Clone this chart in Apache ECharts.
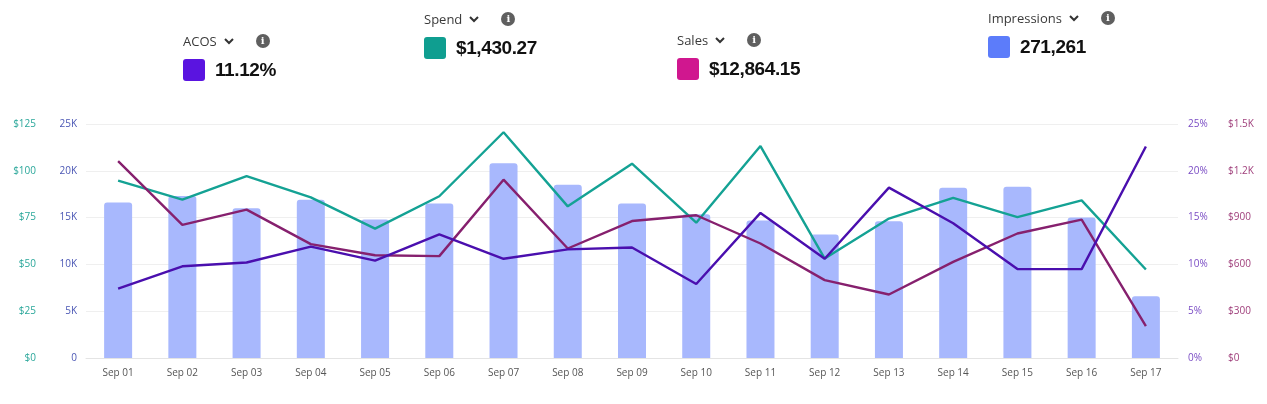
<!DOCTYPE html>
<html>
<head>
  <meta charset="utf-8">
  <title>Campaign performance</title>
  <script src="https://cdn.jsdelivr.net/npm/echarts@6/dist/echarts.min.js"></script>
  <style>
    body { margin: 0; background: #fff; font-family: "Open Sans", Roboto, sans-serif; }
    #wrap { position: relative; width: 1267px; height: 404px; }
    #main { position: absolute; left: 0; top: 0; width: 1267px; height: 404px; }
    .kpi { position: absolute; }
    .kpi .lbl { font-size: 13px; color: #3a3a3a; display: flex; align-items: center; height: 18px; }
    .kpi .lbl svg { margin-left: 7px; }
    .kpi .info { display: inline-block; width: 14px; height: 14px; border-radius: 50%; background: #5f5f5f;
                 color: #fff; font-size: 10px; font-weight: bold; line-height: 14px; text-align: center; margin-left: 22px; font-family: "DejaVu Serif", serif; }
    .kpi .val { display: flex; align-items: center; margin-top: 9px; }
    .kpi .box { width: 22px; height: 22px; border-radius: 3px; margin-right: 10px; }
    .kpi .num { font-size: 19px; font-weight: bold; color: #111; letter-spacing: -0.4px; font-family: "Liberation Sans", Arial, sans-serif; }
  </style>
</head>
<body>
<div id="wrap">
  <div id="main"></div>
</div>
<script type="text/javascript">
  // 数据
  var days = ['Sep 01','Sep 02','Sep 03','Sep 04','Sep 05','Sep 06','Sep 07','Sep 08','Sep 09',
              'Sep 10','Sep 11','Sep 12','Sep 13','Sep 14','Sep 15','Sep 16','Sep 17'];
  var impressions = [16600,17300,16000,16900,14800,16500,20800,18500,16500,15350,14700,13200,14600,18200,18300,15000,6600];
  var spend = [94.7,84.6,97.2,85.8,69.1,86.4,120.6,81.0,103.8,72.3,113.2,53.1,74.5,85.5,75.3,84.2,47.3];
  var sales = [1262,853,951,730,659,653,1143,702,878,915,734,499,407,616,798,887,205];
  var acos = [7.4,9.8,10.2,11.9,10.4,13.2,10.6,11.6,11.8,7.9,15.5,10.6,18.2,14.4,9.5,9.5,22.6];

  var kpis = [
    { name: 'ACOS', value: '11.12%', color: '#5a14e0', left: 183, top: 32 },
    { name: 'Spend', value: '$1,430.27', color: '#0f9e90', left: 424, top: 10 },
    { name: 'Sales', value: '$12,864.15', color: '#d0178f', left: 677, top: 31 },
    { name: 'Impressions', value: '271,261', color: '#5c7cfa', left: 988, top: 9 }
  ];

  var wrap = document.getElementById('wrap');
  kpis.forEach(function (k) {
    var d = document.createElement('div');
    d.className = 'kpi';
    d.style.left = k.left + 'px';
    d.style.top = k.top + 'px';
    d.innerHTML = '<div class="lbl">' + k.name +
      '<svg width="10" height="7" viewBox="0 0 10 7"><path d="M1 1 L5 5 L9 1" stroke="#333" stroke-width="2" fill="none"/></svg>' +
      '<span class="info">i</span></div>' +
      '<div class="val"><span class="box" style="background:' + k.color + '"></span><span class="num">' + k.value + '</span></div>';
    wrap.appendChild(d);
  });

  var myChart = echarts.init(document.getElementById('main'));
  var axisFont = { fontSize: 10, fontFamily: 'Open Sans, sans-serif' };

  var option = {
    animation: false,
    grid: { left: 86, right: 89, top: 124, bottom: 46 },
    xAxis: {
      type: 'category',
      data: days,
      axisTick: { show: false },
      axisLine: { lineStyle: { color: '#e4e4e4' } },
      axisLabel: Object.assign({ color: '#555', margin: 10 }, axisFont)
    },
    yAxis: [
      {
        type: 'value', position: 'left', min: 0, max: 125, interval: 25, offset: 42,
        axisLabel: Object.assign({ color: '#2aa79a', formatter: '${value}', margin: 8 }, axisFont),
        splitLine: { show: false }, axisLine: { show: false }
      },
      {
        type: 'value', position: 'left', min: 0, max: 25000, interval: 5000,
        axisLabel: Object.assign({ color: '#4a56b4', margin: 9,
          formatter: function (v) { return v === 0 ? '0' : (v / 1000) + 'K'; } }, axisFont),
        splitLine: { lineStyle: { color: '#efefef' } }, axisLine: { show: false }
      },
      {
        type: 'value', position: 'right', min: 0, max: 25, interval: 5,
        axisLabel: Object.assign({ color: '#7a4cc4', formatter: '{value}%', margin: 10 }, axisFont),
        splitLine: { show: false }, axisLine: { show: false }
      },
      {
        type: 'value', position: 'right', min: 0, max: 1500, interval: 300, offset: 40,
        axisLabel: Object.assign({ color: '#a0407c', margin: 10,
          formatter: function (v) { return v >= 1000 ? '$' + (v / 1000) + 'K' : '$' + v; } }, axisFont),
        splitLine: { show: false }, axisLine: { show: false }
      }
    ],
    series: [
      {
        name: 'Impressions', type: 'bar', yAxisIndex: 1, data: impressions,
        barWidth: 28, itemStyle: { color: '#a8b8fd', borderRadius: [3, 3, 0, 0] }
      },
      {
        name: 'Spend', type: 'line', yAxisIndex: 0, data: spend, symbol: 'none',
        lineStyle: { color: '#14a294', width: 2.4 }
      },
      {
        name: 'Sales', type: 'line', yAxisIndex: 3, data: sales, symbol: 'none',
        lineStyle: { color: '#86206e', width: 2.4 }
      },
      {
        name: 'ACOS', type: 'line', yAxisIndex: 2, data: acos, symbol: 'none',
        lineStyle: { color: '#4a0fae', width: 2.4 }
      }
    ]
  };
  myChart.setOption(option);
</script>
</body>
</html>
